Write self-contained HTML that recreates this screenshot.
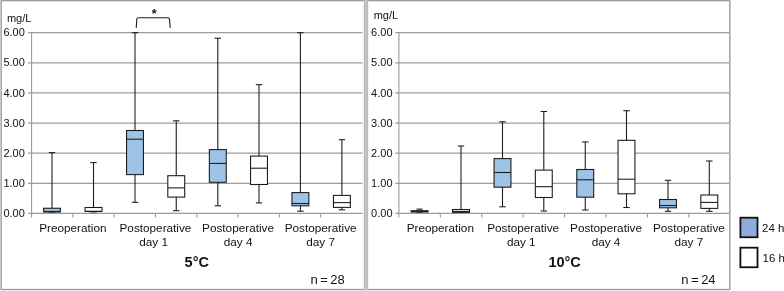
<!DOCTYPE html>
<html><head><meta charset="utf-8"><title>Box plots</title>
<style>html,body{margin:0;padding:0;background:#fff;overflow:hidden}svg{display:block;will-change:transform;opacity:0.999}text{font-family:'Liberation Sans', Arial, sans-serif}</style>
</head><body>
<svg width="784" height="291" viewBox="0 0 784 291">
<rect width="784" height="291" fill="#fff"/>
<rect x="0" y="0" width="731" height="1" fill="#a0a0a0" shape-rendering="crispEdges"/>
<rect x="1" y="1" width="729" height="1" fill="#dcdcdc" shape-rendering="crispEdges"/>
<rect x="0" y="288" width="731" height="1" fill="#f2f2f2" shape-rendering="crispEdges"/>
<rect x="0" y="289" width="731" height="1" fill="#9a9a9a" shape-rendering="crispEdges"/>
<rect x="0" y="290" width="729" height="1" fill="#e6e6e6" shape-rendering="crispEdges"/>
<rect x="0" y="0" width="1" height="290" fill="#c8c8c8" shape-rendering="crispEdges"/>
<rect x="1" y="0" width="1" height="290" fill="#a8a8a8" shape-rendering="crispEdges"/>
<rect x="363" y="1" width="1" height="288" fill="#f4f4f4" shape-rendering="crispEdges"/>
<rect x="364" y="0" width="1" height="290" fill="#b2b2b2" shape-rendering="crispEdges"/>
<rect x="365" y="0" width="1" height="290" fill="#cacaca" shape-rendering="crispEdges"/>
<rect x="366" y="0" width="1" height="290" fill="#c2c2c2" shape-rendering="crispEdges"/>
<rect x="367" y="0" width="1" height="290" fill="#bcbcbc" shape-rendering="crispEdges"/>
<rect x="368" y="1" width="1" height="288" fill="#f2f2f2" shape-rendering="crispEdges"/>
<rect x="729" y="0" width="1" height="290" fill="#aaaaaa" shape-rendering="crispEdges"/>
<rect x="730" y="1" width="1" height="289" fill="#c6c6c6" shape-rendering="crispEdges"/>
<rect x="0" y="0" width="1" height="1" fill="#d0d0d0" shape-rendering="crispEdges"/>
<rect x="730" y="0" width="1" height="1" fill="#dddddd" shape-rendering="crispEdges"/>
<line x1="27.95" y1="213.45" x2="362.5" y2="213.45" stroke="#9c9c9c" stroke-width="1.25"/>
<line x1="27.95" y1="183.32" x2="362.5" y2="183.32" stroke="#9c9c9c" stroke-width="1.25"/>
<line x1="27.95" y1="153.20" x2="362.5" y2="153.20" stroke="#9c9c9c" stroke-width="1.25"/>
<line x1="27.95" y1="123.07" x2="362.5" y2="123.07" stroke="#9c9c9c" stroke-width="1.25"/>
<line x1="27.95" y1="92.95" x2="362.5" y2="92.95" stroke="#9c9c9c" stroke-width="1.25"/>
<line x1="27.95" y1="62.82" x2="362.5" y2="62.82" stroke="#9c9c9c" stroke-width="1.25"/>
<line x1="27.95" y1="32.70" x2="362.5" y2="32.70" stroke="#9c9c9c" stroke-width="1.25"/>
<line x1="31.55" y1="32.10" x2="31.55" y2="217.40" stroke="#9c9c9c" stroke-width="1.1"/>
<line x1="72.85" y1="213.45" x2="72.85" y2="217.40" stroke="#9c9c9c" stroke-width="1.1"/>
<line x1="114.15" y1="213.45" x2="114.15" y2="217.40" stroke="#9c9c9c" stroke-width="1.1"/>
<line x1="155.45" y1="213.45" x2="155.45" y2="217.40" stroke="#9c9c9c" stroke-width="1.1"/>
<line x1="196.75" y1="213.45" x2="196.75" y2="217.40" stroke="#9c9c9c" stroke-width="1.1"/>
<line x1="238.05" y1="213.45" x2="238.05" y2="217.40" stroke="#9c9c9c" stroke-width="1.1"/>
<line x1="279.35" y1="213.45" x2="279.35" y2="217.40" stroke="#9c9c9c" stroke-width="1.1"/>
<line x1="320.65" y1="213.45" x2="320.65" y2="217.40" stroke="#9c9c9c" stroke-width="1.1"/>
<text x="3.4" y="217.00" font-size="11" fill="#111">0.00</text>
<text x="3.4" y="186.88" font-size="11" fill="#111">1.00</text>
<text x="3.4" y="156.75" font-size="11" fill="#111">2.00</text>
<text x="3.4" y="126.62" font-size="11" fill="#111">3.00</text>
<text x="3.4" y="96.50" font-size="11" fill="#111">4.00</text>
<text x="3.4" y="66.37" font-size="11" fill="#111">5.00</text>
<text x="3.4" y="36.25" font-size="11" fill="#111">6.00</text>
<text x="6.9" y="22.2" font-size="11" fill="#111">mg/L</text>
<line x1="52.0" y1="152.60" x2="52.0" y2="211.95" stroke="#1c1c1c" stroke-width="1.08"/>
<line x1="48.8" y1="152.60" x2="55.2" y2="152.60" stroke="#1c1c1c" stroke-width="1.08"/>
<line x1="48.8" y1="211.95" x2="55.2" y2="211.95" stroke="#1c1c1c" stroke-width="1.08"/>
<rect x="43.55" y="208.25" width="16.9" height="3.70" fill="#9dc3e6" stroke="#1c1c1c" stroke-width="1.08"/>
<line x1="43.55" y1="211.45" x2="60.45" y2="211.45" stroke="#1c1c1c" stroke-width="1.08"/>
<line x1="93.5" y1="162.60" x2="93.5" y2="211.90" stroke="#1c1c1c" stroke-width="1.08"/>
<line x1="90.3" y1="162.60" x2="96.7" y2="162.60" stroke="#1c1c1c" stroke-width="1.08"/>
<line x1="90.3" y1="211.90" x2="96.7" y2="211.90" stroke="#1c1c1c" stroke-width="1.08"/>
<rect x="85.05" y="207.50" width="16.9" height="4.00" fill="#fff" stroke="#1c1c1c" stroke-width="1.08"/>
<line x1="85.05" y1="211.30" x2="101.95" y2="211.30" stroke="#1c1c1c" stroke-width="1.08"/>
<line x1="135.0" y1="32.70" x2="135.0" y2="202.30" stroke="#1c1c1c" stroke-width="1.08"/>
<line x1="131.8" y1="32.70" x2="138.2" y2="32.70" stroke="#1c1c1c" stroke-width="1.08"/>
<line x1="131.8" y1="202.30" x2="138.2" y2="202.30" stroke="#1c1c1c" stroke-width="1.08"/>
<rect x="126.55" y="130.50" width="16.9" height="44.10" fill="#9dc3e6" stroke="#1c1c1c" stroke-width="1.08"/>
<line x1="126.55" y1="139.20" x2="143.45" y2="139.20" stroke="#1c1c1c" stroke-width="1.08"/>
<line x1="176.25" y1="120.80" x2="176.25" y2="210.70" stroke="#1c1c1c" stroke-width="1.08"/>
<line x1="173.05" y1="120.80" x2="179.45" y2="120.80" stroke="#1c1c1c" stroke-width="1.08"/>
<line x1="173.05" y1="210.70" x2="179.45" y2="210.70" stroke="#1c1c1c" stroke-width="1.08"/>
<rect x="167.80" y="175.70" width="16.9" height="21.40" fill="#fff" stroke="#1c1c1c" stroke-width="1.08"/>
<line x1="167.80" y1="187.90" x2="184.70" y2="187.90" stroke="#1c1c1c" stroke-width="1.08"/>
<line x1="217.8" y1="38.20" x2="217.8" y2="205.80" stroke="#1c1c1c" stroke-width="1.08"/>
<line x1="214.60000000000002" y1="38.20" x2="221.0" y2="38.20" stroke="#1c1c1c" stroke-width="1.08"/>
<line x1="214.60000000000002" y1="205.80" x2="221.0" y2="205.80" stroke="#1c1c1c" stroke-width="1.08"/>
<rect x="209.35" y="149.60" width="16.9" height="32.70" fill="#9dc3e6" stroke="#1c1c1c" stroke-width="1.08"/>
<line x1="209.35" y1="163.40" x2="226.25" y2="163.40" stroke="#1c1c1c" stroke-width="1.08"/>
<line x1="259.0" y1="84.70" x2="259.0" y2="202.90" stroke="#1c1c1c" stroke-width="1.08"/>
<line x1="255.8" y1="84.70" x2="262.2" y2="84.70" stroke="#1c1c1c" stroke-width="1.08"/>
<line x1="255.8" y1="202.90" x2="262.2" y2="202.90" stroke="#1c1c1c" stroke-width="1.08"/>
<rect x="250.55" y="156.10" width="16.9" height="28.40" fill="#fff" stroke="#1c1c1c" stroke-width="1.08"/>
<line x1="250.55" y1="168.20" x2="267.45" y2="168.20" stroke="#1c1c1c" stroke-width="1.08"/>
<line x1="300.4" y1="32.70" x2="300.4" y2="211.20" stroke="#1c1c1c" stroke-width="1.08"/>
<line x1="297.2" y1="32.70" x2="303.59999999999997" y2="32.70" stroke="#1c1c1c" stroke-width="1.08"/>
<line x1="297.2" y1="211.20" x2="303.59999999999997" y2="211.20" stroke="#1c1c1c" stroke-width="1.08"/>
<rect x="291.95" y="192.60" width="16.9" height="13.20" fill="#9dc3e6" stroke="#1c1c1c" stroke-width="1.08"/>
<line x1="291.95" y1="203.50" x2="308.85" y2="203.50" stroke="#1c1c1c" stroke-width="1.08"/>
<line x1="341.9" y1="139.70" x2="341.9" y2="209.80" stroke="#1c1c1c" stroke-width="1.08"/>
<line x1="338.7" y1="139.70" x2="345.09999999999997" y2="139.70" stroke="#1c1c1c" stroke-width="1.08"/>
<line x1="338.7" y1="209.80" x2="345.09999999999997" y2="209.80" stroke="#1c1c1c" stroke-width="1.08"/>
<rect x="333.45" y="195.40" width="16.9" height="12.00" fill="#fff" stroke="#1c1c1c" stroke-width="1.08"/>
<line x1="333.45" y1="202.60" x2="350.35" y2="202.60" stroke="#1c1c1c" stroke-width="1.08"/>
<text x="72.85" y="232.3" font-size="11.75" text-anchor="middle" fill="#111">Preoperation</text>
<text x="155.45" y="232.3" font-size="11.75" text-anchor="middle" fill="#111">Postoperative</text>
<text x="153.55" y="246.3" font-size="11.75" text-anchor="middle" fill="#111">day 1</text>
<text x="238.05" y="232.3" font-size="11.75" text-anchor="middle" fill="#111">Postoperative</text>
<text x="238.05" y="246.3" font-size="11.75" text-anchor="middle" fill="#111">day 4</text>
<text x="320.65" y="232.3" font-size="11.75" text-anchor="middle" fill="#111">Postoperative</text>
<text x="320.65" y="246.3" font-size="11.75" text-anchor="middle" fill="#111">day 7</text>
<text x="196.75" y="266.5" font-size="14.5" font-weight="bold" text-anchor="middle" fill="#111">5°C</text>
<text x="310.4" y="283.8" font-size="13" fill="#111">n<tspan dx="2.5">=</tspan><tspan dx="2.5">28</tspan></text>
<line x1="395.29999999999995" y1="213.45" x2="729.5" y2="213.45" stroke="#9c9c9c" stroke-width="1.25"/>
<line x1="395.29999999999995" y1="183.32" x2="729.5" y2="183.32" stroke="#9c9c9c" stroke-width="1.25"/>
<line x1="395.29999999999995" y1="153.20" x2="729.5" y2="153.20" stroke="#9c9c9c" stroke-width="1.25"/>
<line x1="395.29999999999995" y1="123.07" x2="729.5" y2="123.07" stroke="#9c9c9c" stroke-width="1.25"/>
<line x1="395.29999999999995" y1="92.95" x2="729.5" y2="92.95" stroke="#9c9c9c" stroke-width="1.25"/>
<line x1="395.29999999999995" y1="62.82" x2="729.5" y2="62.82" stroke="#9c9c9c" stroke-width="1.25"/>
<line x1="395.29999999999995" y1="32.70" x2="729.5" y2="32.70" stroke="#9c9c9c" stroke-width="1.25"/>
<line x1="398.9" y1="32.10" x2="398.9" y2="217.40" stroke="#9c9c9c" stroke-width="1.1"/>
<line x1="440.32" y1="213.45" x2="440.32" y2="217.40" stroke="#9c9c9c" stroke-width="1.1"/>
<line x1="481.75" y1="213.45" x2="481.75" y2="217.40" stroke="#9c9c9c" stroke-width="1.1"/>
<line x1="523.17" y1="213.45" x2="523.17" y2="217.40" stroke="#9c9c9c" stroke-width="1.1"/>
<line x1="564.60" y1="213.45" x2="564.60" y2="217.40" stroke="#9c9c9c" stroke-width="1.1"/>
<line x1="606.02" y1="213.45" x2="606.02" y2="217.40" stroke="#9c9c9c" stroke-width="1.1"/>
<line x1="647.45" y1="213.45" x2="647.45" y2="217.40" stroke="#9c9c9c" stroke-width="1.1"/>
<line x1="688.88" y1="213.45" x2="688.88" y2="217.40" stroke="#9c9c9c" stroke-width="1.1"/>
<text x="371.1" y="217.00" font-size="11" fill="#111">0.00</text>
<text x="371.1" y="186.88" font-size="11" fill="#111">1.00</text>
<text x="371.1" y="156.75" font-size="11" fill="#111">2.00</text>
<text x="371.1" y="126.62" font-size="11" fill="#111">3.00</text>
<text x="371.1" y="96.50" font-size="11" fill="#111">4.00</text>
<text x="371.1" y="66.37" font-size="11" fill="#111">5.00</text>
<text x="371.1" y="36.25" font-size="11" fill="#111">6.00</text>
<text x="373.7" y="19.3" font-size="11" fill="#111">mg/L</text>
<line x1="419.6" y1="209.15" x2="419.6" y2="212.00" stroke="#1c1c1c" stroke-width="1.08"/>
<line x1="416.40000000000003" y1="209.15" x2="422.8" y2="209.15" stroke="#1c1c1c" stroke-width="1.08"/>
<line x1="416.40000000000003" y1="212.00" x2="422.8" y2="212.00" stroke="#1c1c1c" stroke-width="1.08"/>
<rect x="411.15" y="210.75" width="16.9" height="1.25" fill="#9dc3e6" stroke="#1c1c1c" stroke-width="1.08"/>
<line x1="411.15" y1="211.40" x2="428.05" y2="211.40" stroke="#1c1c1c" stroke-width="1.08"/>
<line x1="461.0" y1="146.00" x2="461.0" y2="212.40" stroke="#1c1c1c" stroke-width="1.08"/>
<line x1="457.8" y1="146.00" x2="464.2" y2="146.00" stroke="#1c1c1c" stroke-width="1.08"/>
<line x1="457.8" y1="212.40" x2="464.2" y2="212.40" stroke="#1c1c1c" stroke-width="1.08"/>
<rect x="452.55" y="209.50" width="16.9" height="2.90" fill="#fff" stroke="#1c1c1c" stroke-width="1.08"/>
<line x1="452.55" y1="211.40" x2="469.45" y2="211.40" stroke="#1c1c1c" stroke-width="1.08"/>
<line x1="502.5" y1="121.80" x2="502.5" y2="206.80" stroke="#1c1c1c" stroke-width="1.08"/>
<line x1="499.3" y1="121.80" x2="505.7" y2="121.80" stroke="#1c1c1c" stroke-width="1.08"/>
<line x1="499.3" y1="206.80" x2="505.7" y2="206.80" stroke="#1c1c1c" stroke-width="1.08"/>
<rect x="494.05" y="158.60" width="16.9" height="28.60" fill="#9dc3e6" stroke="#1c1c1c" stroke-width="1.08"/>
<line x1="494.05" y1="172.50" x2="510.95" y2="172.50" stroke="#1c1c1c" stroke-width="1.08"/>
<line x1="543.8" y1="111.50" x2="543.8" y2="211.00" stroke="#1c1c1c" stroke-width="1.08"/>
<line x1="540.5999999999999" y1="111.50" x2="547.0" y2="111.50" stroke="#1c1c1c" stroke-width="1.08"/>
<line x1="540.5999999999999" y1="211.00" x2="547.0" y2="211.00" stroke="#1c1c1c" stroke-width="1.08"/>
<rect x="535.35" y="170.10" width="16.9" height="27.40" fill="#fff" stroke="#1c1c1c" stroke-width="1.08"/>
<line x1="535.35" y1="186.70" x2="552.25" y2="186.70" stroke="#1c1c1c" stroke-width="1.08"/>
<line x1="585.25" y1="141.90" x2="585.25" y2="210.00" stroke="#1c1c1c" stroke-width="1.08"/>
<line x1="582.05" y1="141.90" x2="588.45" y2="141.90" stroke="#1c1c1c" stroke-width="1.08"/>
<line x1="582.05" y1="210.00" x2="588.45" y2="210.00" stroke="#1c1c1c" stroke-width="1.08"/>
<rect x="576.80" y="169.50" width="16.9" height="27.70" fill="#9dc3e6" stroke="#1c1c1c" stroke-width="1.08"/>
<line x1="576.80" y1="179.80" x2="593.70" y2="179.80" stroke="#1c1c1c" stroke-width="1.08"/>
<line x1="626.5" y1="110.70" x2="626.5" y2="207.50" stroke="#1c1c1c" stroke-width="1.08"/>
<line x1="623.3" y1="110.70" x2="629.7" y2="110.70" stroke="#1c1c1c" stroke-width="1.08"/>
<line x1="623.3" y1="207.50" x2="629.7" y2="207.50" stroke="#1c1c1c" stroke-width="1.08"/>
<rect x="618.05" y="140.30" width="16.9" height="53.50" fill="#fff" stroke="#1c1c1c" stroke-width="1.08"/>
<line x1="618.05" y1="179.20" x2="634.95" y2="179.20" stroke="#1c1c1c" stroke-width="1.08"/>
<line x1="668.0" y1="180.30" x2="668.0" y2="211.30" stroke="#1c1c1c" stroke-width="1.08"/>
<line x1="664.8" y1="180.30" x2="671.2" y2="180.30" stroke="#1c1c1c" stroke-width="1.08"/>
<line x1="664.8" y1="211.30" x2="671.2" y2="211.30" stroke="#1c1c1c" stroke-width="1.08"/>
<rect x="659.55" y="199.50" width="16.9" height="8.30" fill="#9dc3e6" stroke="#1c1c1c" stroke-width="1.08"/>
<line x1="659.55" y1="205.50" x2="676.45" y2="205.50" stroke="#1c1c1c" stroke-width="1.08"/>
<line x1="709.3" y1="161.00" x2="709.3" y2="211.30" stroke="#1c1c1c" stroke-width="1.08"/>
<line x1="706.0999999999999" y1="161.00" x2="712.5" y2="161.00" stroke="#1c1c1c" stroke-width="1.08"/>
<line x1="706.0999999999999" y1="211.30" x2="712.5" y2="211.30" stroke="#1c1c1c" stroke-width="1.08"/>
<rect x="700.85" y="195.00" width="16.9" height="13.40" fill="#fff" stroke="#1c1c1c" stroke-width="1.08"/>
<line x1="700.85" y1="202.40" x2="717.75" y2="202.40" stroke="#1c1c1c" stroke-width="1.08"/>
<text x="440.32" y="232.3" font-size="11.75" text-anchor="middle" fill="#111">Preoperation</text>
<text x="523.17" y="232.3" font-size="11.75" text-anchor="middle" fill="#111">Postoperative</text>
<text x="521.27" y="246.3" font-size="11.75" text-anchor="middle" fill="#111">day 1</text>
<text x="606.02" y="232.3" font-size="11.75" text-anchor="middle" fill="#111">Postoperative</text>
<text x="606.02" y="246.3" font-size="11.75" text-anchor="middle" fill="#111">day 4</text>
<text x="688.88" y="232.3" font-size="11.75" text-anchor="middle" fill="#111">Postoperative</text>
<text x="688.88" y="246.3" font-size="11.75" text-anchor="middle" fill="#111">day 7</text>
<text x="564.60" y="266.5" font-size="14.5" font-weight="bold" text-anchor="middle" fill="#111">10°C</text>
<text x="681.3" y="283.8" font-size="13" fill="#111">n<tspan dx="2.5">=</tspan><tspan dx="2.5">24</tspan></text>
<path d="M136.2,27.9 L136.8,19.3 Q136.9,17.7 138.4,17.7 H167.8 Q169.3,17.7 169.4,19.3 L170.3,27.9" fill="none" stroke="#1c1c1c" stroke-width="1.1"/>
<text x="154.2" y="17.5" font-size="12.5" font-weight="bold" text-anchor="middle" fill="#111">*</text>
<rect x="740.4" y="217.7" width="17.1" height="19.55" fill="#8faadc" stroke="#111" stroke-width="1.8"/>
<rect x="740.4" y="247.7" width="17.1" height="19.55" fill="#fff" stroke="#111" stroke-width="1.8"/>
<text x="762" y="231.9" font-size="11.5" fill="#111">24 h</text>
<text x="762.6" y="262.3" font-size="11.5" fill="#111">16 h</text>
</svg></body></html>
